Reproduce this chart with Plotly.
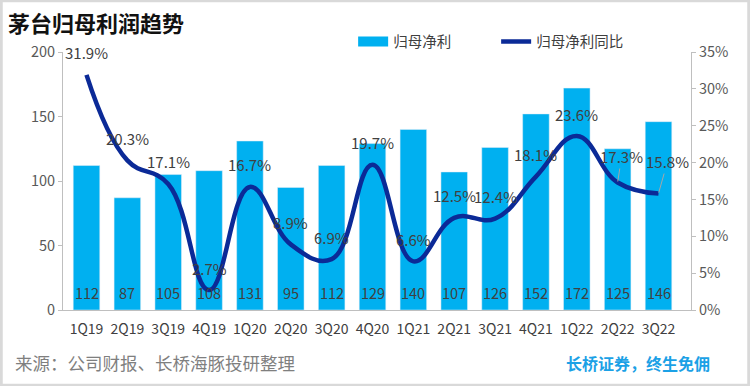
import plotly.graph_objects as go

quarters = ["1Q19","2Q19","3Q19","4Q19","1Q20","2Q20","3Q20","4Q20","1Q21","2Q21","3Q21","4Q21","1Q22","2Q22","3Q22"]
net_profit = [112, 87, 105, 108, 131, 95, 112, 129, 140, 107, 126, 152, 172, 125, 146]
yoy_pct = [31.9, 20.3, 17.1, 2.7, 16.7, 8.9, 6.9, 19.7, 6.6, 12.5, 12.4, 18.1, 23.6, 17.3, 15.8]
left_ticks = [0, 50, 100, 150, 200]
right_ticks = [0, 5, 10, 15, 20, 25, 30, 35]

FONT = "Noto Sans CJK SC"
BAR = "#00b0f0"
LINE = "#0b2a97"
TXT = "#404040"

fig = go.Figure()
fig.add_trace(go.Bar(
    x=quarters, y=net_profit, name="归母净利", marker_color=BAR, showlegend=False,
))
# legend entry for the bars drawn as a wide rectangle (like the reference)
fig.add_trace(go.Scatter(
    x=[None], y=[None], name="归母净利", mode="lines",
    line=dict(color=BAR, width=10), legendrank=1,
))
fig.add_trace(go.Scatter(
    x=quarters, y=yoy_pct, name="归母净利同比", yaxis="y2", mode="lines",
    line=dict(color=LINE, width=4.5, shape="spline", smoothing=1.2), legendrank=2,
))

ann = []
for q, v in zip(quarters, net_profit):
    ann.append(dict(x=q, y=0, xref="x", yref="y", text=str(v), showarrow=False,
                    yshift=18, font=dict(size=14.5, color=TXT, family=FONT)))
n = len(quarters)
offsets = {n - 2: (4, -26), n - 1: (9, -32)}
for i, (q, v) in enumerate(zip(quarters, yoy_pct)):
    if i in offsets:
        ax, ay = offsets[i]
        ann.append(dict(x=q, y=v, xref="x", yref="y2", text=f"{v:.1f}%", showarrow=True,
                        arrowhead=0, arrowwidth=1, arrowcolor="#a6a6a6",
                        ax=ax, ay=ay, standoff=1,
                        font=dict(size=15, color=TXT, family=FONT)))
    else:
        ann.append(dict(x=q, y=v, xref="x", yref="y2", text=f"{v:.1f}%", showarrow=False,
                        yshift=22, font=dict(size=15, color=TXT, family=FONT)))

ann.append(dict(x=-0.091, y=1.116, xref="paper", yref="paper", xanchor="left", yanchor="middle",
                text="<b>茅台归母利润趋势</b>", showarrow=False,
                font=dict(size=22, color="#111111", family=FONT)))
ann.append(dict(x=-0.0796, y=-0.2016, xref="paper", yref="paper", xanchor="left", yanchor="middle",
                text="来源：公司财报、长桥海豚投研整理", showarrow=False,
                font=dict(size=17.5, color="#7f7f7f", family=FONT)))
ann.append(dict(x=1.0334, y=-0.205, xref="paper", yref="paper", xanchor="right", yanchor="middle",
                text="<b>长桥证券，终生免佣</b>", showarrow=False,
                font=dict(size=16, color="#1ba1e6", family=FONT)))

fig.update_layout(
    width=750, height=386,
    margin=dict(l=63, r=59, t=52, b=76),
    paper_bgcolor="white", plot_bgcolor="white",
    bargap=0.35,
    showlegend=True,
    legend=dict(orientation="h", x=0.462, y=1.04, xanchor="left", yanchor="middle",
                font=dict(size=14.5, color=TXT, family=FONT),
                entrywidth=98, itemwidth=30, bgcolor="rgba(0,0,0,0)"),
    xaxis=dict(showline=True, linecolor="#bfbfbf", linewidth=1, ticks="",
               ticklabelstandoff=6,
               tickfont=dict(size=14, color=TXT, family=FONT), showgrid=False),
    yaxis=dict(range=[0, 200], tickvals=left_ticks, showline=True, linecolor="#bfbfbf",
               ticks="outside", ticklen=4, tickcolor="#bfbfbf", showgrid=False, zeroline=False,
               tickfont=dict(size=14.5, color="#595959", family=FONT)),
    yaxis2=dict(range=[0, 35], tickvals=right_ticks, ticktext=[f"{t}%" for t in right_ticks],
                overlaying="y", side="right", showline=True, linecolor="#bfbfbf",
                ticks="outside", ticklen=4, tickcolor="#bfbfbf", showgrid=False, zeroline=False,
                tickfont=dict(size=14.5, color="#595959", family=FONT)),
    annotations=ann,
    shapes=[dict(type="rect", xref="paper", yref="paper",
                 x0=-63/628 + 0.002, x1=1 + 59/628 - 0.002, y0=-76/258 + 0.003, y1=1 + 52/258 - 0.003,
                 line=dict(color="#d9d9d9", width=3), fillcolor="rgba(0,0,0,0)")],
)

fig.write_html("out.html")
